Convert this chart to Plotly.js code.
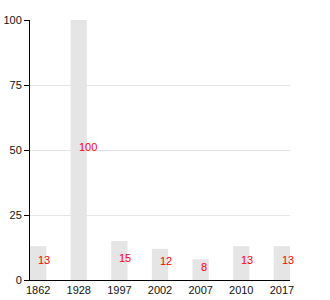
<!DOCTYPE html>
<html>
<head>
<meta charset="utf-8">
<script src="https://cdn.plot.ly/plotly-3.0.1.min.js"></script>
<style>html,body{margin:0;padding:0;background:#fff}#chart{width:330px;height:300px}</style>
</head>
<body>
<div id="chart"></div>
<script>
const years = ["1862", "1928", "1997", "2002", "2007", "2010", "2017"];
const values = [13, 100, 15, 12, 8, 13, 13];
const yTicks = [0, 25, 50, 75, 100];

const trace = {
  type: "bar",
  x: years,
  y: values,
  width: 0.4,
  marker: {color: "#e5e5e5"},
  hoverinfo: "none"
};

const annotations = years.map((yr, i) => ({
  x: i, y: values[i] / 2, xref: "x", yref: "y",
  text: String(values[i]), showarrow: false,
  xanchor: "left", yanchor: "middle", xshift: -2, yshift: 3,
  font: {color: "#ff0000", size: 11, family: "Liberation Sans, Arial, sans-serif"}
}));

const layout = {
  width: 330, height: 300,
  margin: {l: 30, r: 40, t: 20, b: 20},
  paper_bgcolor: "#fff", plot_bgcolor: "#fff",
  showlegend: false,
  font: {family: "Liberation Sans, Arial, sans-serif", size: 11, color: "#111"},
  xaxis: {
    type: "category", range: [-0.2, 6.2],
    showline: true, linecolor: "#000", linewidth: 1,
    ticks: "", showgrid: false, zeroline: false,
    tickfont: {size: 11}
  },
  yaxis: {
    range: [0, 100], tickvals: yTicks,
    showline: true, linecolor: "#000", linewidth: 1,
    ticks: "outside", ticklen: 5, tickcolor: "#000",
    showgrid: true, gridcolor: "#e5e5e5", zeroline: false,
    tickfont: {size: 11}
  },
  annotations: annotations
};

Plotly.newPlot("chart", [trace], layout, {displayModeBar: false, staticPlot: true});
</script>
</body>
</html>
